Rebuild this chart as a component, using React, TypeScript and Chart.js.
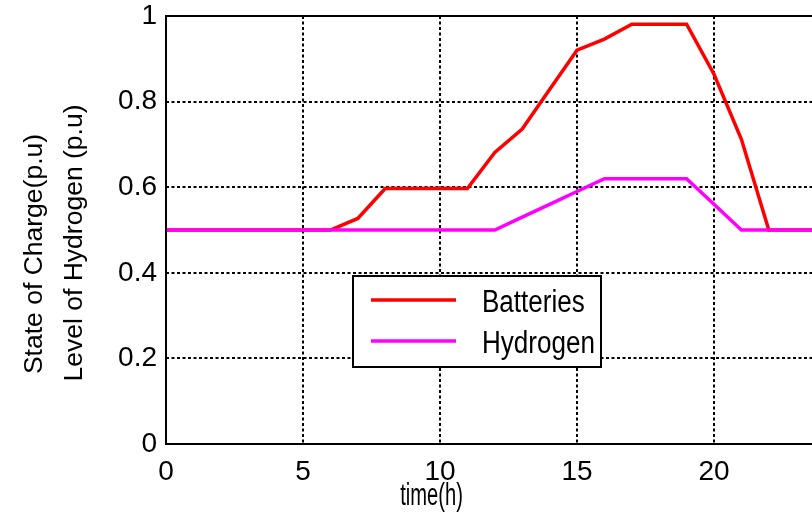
import React, { useEffect, useRef } from "react";
import { Chart, registerables } from "chart.js";

Chart.register(...registerables);

// Hourly state of charge of the batteries and level of the hydrogen tank (p.u)
const hours = [0, 1, 2, 3, 4, 5, 6, 7, 8, 9, 10, 11, 12, 13, 14, 15, 16, 17, 18, 19, 20, 21, 22, 23, 24];
const batteries = [0.5, 0.5, 0.5, 0.5, 0.5, 0.5, 0.5, 0.527, 0.597, 0.597, 0.597, 0.597, 0.681, 0.736, 0.828, 0.92, 0.946, 0.981, 0.981, 0.981, 0.864, 0.712, 0.5, 0.5, 0.5];
const hydrogen = [0.5, 0.5, 0.5, 0.5, 0.5, 0.5, 0.5, 0.5, 0.5, 0.5, 0.5, 0.5, 0.5, 0.53, 0.56, 0.59, 0.62, 0.62, 0.62, 0.62, 0.56, 0.5, 0.5, 0.5, 0.5];

const seriesNames = ["Batteries", "Hydrogen"];
const seriesColors = ["#ff0000", "#ff00ff"];
const xTitle = "time(h)";
const yTitleLines = ["State of Charge(p.u)", "Level of Hydrogen (p.u)"];

const FONT = "'Liberation Sans', Arial, Helvetica, sans-serif";
const CANVAS_W = 840;
const CANVAS_H = 512;

// Draws the axes box, the boxed legend inside the plot and the axis titles
const overlayPlugin = {
  id: "overlay",
  afterDraw(chart: any) {
    const { ctx, chartArea: ca } = chart;
    ctx.save();

    // axes box
    ctx.strokeStyle = "#000";
    ctx.lineWidth = 2;
    ctx.setLineDash([]);
    ctx.strokeRect(ca.left, ca.top, ca.right - ca.left, ca.bottom - ca.top);

    // legend
    const bx = ca.left + 187;
    const by = ca.top + 260;
    const bw = 248;
    const bh = 91;
    ctx.fillStyle = "#fff";
    ctx.fillRect(bx, by, bw, bh);
    ctx.lineWidth = 2;
    ctx.strokeStyle = "#000";
    ctx.strokeRect(bx, by, bw, bh);
    chart.data.datasets.forEach((ds: any, i: number) => {
      const ly = by + 24 + i * 41;
      ctx.strokeStyle = ds.borderColor;
      ctx.lineWidth = 3.5;
      ctx.beginPath();
      ctx.moveTo(bx + 18, ly);
      ctx.lineTo(bx + 103, ly);
      ctx.stroke();
      ctx.save();
      ctx.translate(bx + 129, ly + 11.5);
      ctx.scale(0.84, 1);
      ctx.fillStyle = "#000";
      ctx.font = `31px ${FONT}`;
      ctx.textAlign = "left";
      ctx.textBaseline = "alphabetic";
      ctx.fillText(ds.label, 0, 0);
      ctx.restore();
    });

    // x axis title
    ctx.save();
    ctx.translate(ca.left + 265.5, 505);
    ctx.scale(0.65, 1);
    ctx.fillStyle = "#000";
    ctx.font = `31px ${FONT}`;
    ctx.textAlign = "center";
    ctx.textBaseline = "alphabetic";
    ctx.fillText(xTitle, 0, 0);
    ctx.restore();

    // y axis title, two rotated lines
    const yCenters = [254, 243];
    const yBaselines = [42, 82];
    yTitleLines.forEach((line, i) => {
      ctx.save();
      ctx.translate(yBaselines[i], yCenters[i]);
      ctx.rotate(-Math.PI / 2);
      ctx.fillStyle = "#000";
      ctx.font = `26.5px ${FONT}`;
      ctx.textAlign = "center";
      ctx.textBaseline = "alphabetic";
      ctx.fillText(line, 0, 0);
      ctx.restore();
    });

    ctx.restore();
  },
};

export default function App() {
  const canvasRef = useRef<HTMLCanvasElement | null>(null);

  useEffect(() => {
    const canvas = canvasRef.current;
    if (!canvas) return;

    const series = [batteries, hydrogen];
    const datasets = series.map((values, i) => ({
      label: seriesNames[i],
      data: hours.map((h, k) => ({ x: h, y: values[k] })),
      borderColor: seriesColors[i],
      backgroundColor: seriesColors[i],
      borderWidth: 3.5,
      pointRadius: 0,
      tension: 0,
      fill: false,
      order: i === 1 ? 0 : 1,
    }));

    const gridStyle = { color: "#000", lineWidth: 2, drawTicks: false };
    const tickFont = { family: FONT, size: 28 };

    const chart = new Chart(canvas, {
      type: "line",
      data: { datasets },
      options: {
        responsive: false,
        maintainAspectRatio: false,
        animation: false,
        layout: { padding: { top: 16, right: 16.4, left: 0, bottom: 0 } },
        plugins: { legend: { display: false }, tooltip: { enabled: false } },
        scales: {
          x: {
            type: "linear",
            min: 0,
            max: 24,
            grid: gridStyle,
            border: { display: false, dash: [3, 2.5] },
            ticks: { stepSize: 5, includeBounds: false, color: "#000", font: tickFont, padding: 11, maxRotation: 0 },
            afterFit: (s: any) => {
              s.height = 68;
              s.paddingLeft = 0;
              s.paddingRight = 0;
            },
          },
          y: {
            type: "linear",
            min: 0,
            max: 1,
            grid: gridStyle,
            border: { display: false, dash: [3, 2.5] },
            ticks: {
              stepSize: 0.2,
              color: "#000",
              font: tickFont,
              padding: 9,
              callback: (v: any) => String(Number(Number(v).toFixed(1))),
            },
            afterFit: (s: any) => {
              s.width = 166;
              s.paddingTop = 0;
              s.paddingBottom = 0;
            },
          },
        },
      },
      plugins: [overlayPlugin],
    });

    return () => chart.destroy();
  }, []);

  return (
    <div
      style={{
        position: "fixed",
        left: 0,
        top: 0,
        width: 812,
        height: 512,
        overflow: "hidden",
        background: "#fff",
      }}
    >
      <canvas ref={canvasRef} width={CANVAS_W} height={CANVAS_H} style={{ display: "block" }} />
    </div>
  );
}
